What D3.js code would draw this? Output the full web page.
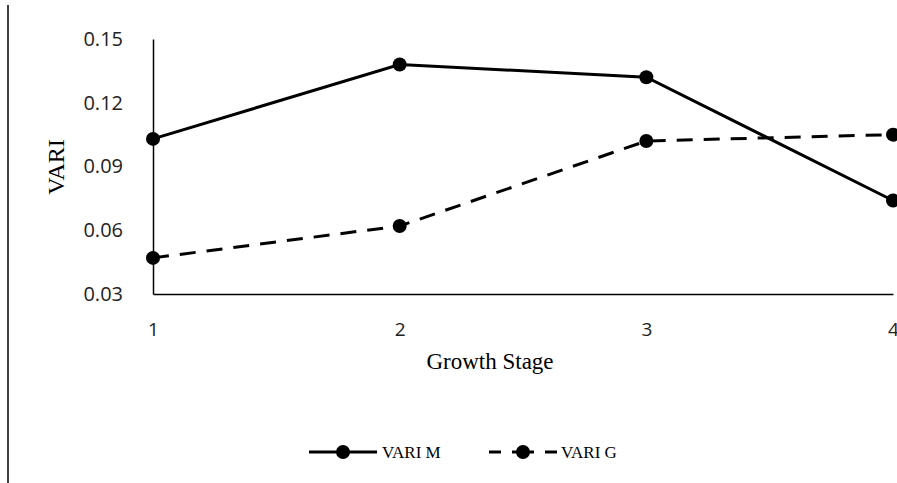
<!DOCTYPE html>
<html>
<head>
<meta charset="utf-8">
<script src="https://cdn.jsdelivr.net/npm/d3@7"></script>
<style>
  html, body { margin: 0; padding: 0; background: #fff; }
  svg { display: block; }
</style>
</head>
<body>
<svg id="chart" width="897" height="483"></svg>
<script>
// Growth stages on the x axis
const stages = [1, 2, 3, 4];
// VARI per growth stage for the two series
const variM = [0.103, 0.138, 0.132, 0.074];
const variG = [0.047, 0.062, 0.102, 0.105];
// Y axis tick values
const yTicks = [0.03, 0.06, 0.09, 0.12, 0.15];

const series = [
  { name: "VARI M", values: variM, dash: null },
  { name: "VARI G", values: variG, dash: "16,11" }
];

const svg = d3.select("#chart");
const W = 897, H = 483;
const margin = { left: 153, right: 4, top: 39, bottom: 189 };

const x = d3.scaleLinear().domain([1, 4]).range([margin.left, W - margin.right]);
const y = d3.scaleLinear().domain([0.03, 0.15]).range([H - margin.bottom, margin.top]);

const serif = "'Liberation Serif', 'Times New Roman', serif";
const sans = "'Open Sans', sans-serif";

// frame line on the left edge
svg.append("line")
  .attr("x1", 8).attr("x2", 8).attr("y1", 5).attr("y2", 483)
  .attr("stroke", "#000").attr("stroke-width", 1.5);

// Y axis
const yAxis = svg.append("g")
  .attr("transform", `translate(${margin.left},0)`)
  .call(d3.axisLeft(y).tickValues(yTicks).tickFormat(d3.format(".2f")).tickSize(0).tickPadding(30));
yAxis.select(".domain").attr("stroke", "#000").attr("stroke-width", 1.5);
yAxis.selectAll("text")
  .attr("font-family", sans)
  .attr("font-size", 20)
  .attr("fill", "#222");

// X axis
const xAxis = svg.append("g")
  .attr("transform", `translate(0,${y(0.03)})`)
  .call(d3.axisBottom(x).tickValues(stages).tickFormat(d3.format("d")).tickSize(0).tickPadding(29));
xAxis.select(".domain").attr("stroke", "#000").attr("stroke-width", 1.5);
xAxis.selectAll("text")
  .attr("font-family", sans)
  .attr("font-size", 19)
  .attr("fill", "#222");

// Axis titles
svg.append("text")
  .attr("x", 490).attr("y", 369)
  .attr("text-anchor", "middle")
  .attr("font-family", serif)
  .attr("font-size", 23)
  .text("Growth Stage");

svg.append("text")
  .attr("transform", "translate(64,167) rotate(-90)")
  .attr("text-anchor", "middle")
  .attr("font-family", serif)
  .attr("font-size", 24)
  .text("VARI");

// Series lines and markers
const line = d3.line()
  .x((d, i) => x(stages[i]))
  .y(d => y(d));

series.forEach(s => {
  svg.append("path")
    .datum(s.values)
    .attr("d", line)
    .attr("fill", "none")
    .attr("stroke", "#000")
    .attr("stroke-width", 3)
    .attr("stroke-dasharray", s.dash);
  svg.append("g").selectAll("circle")
    .data(s.values)
    .join("circle")
    .attr("cx", (d, i) => x(stages[i]))
    .attr("cy", d => y(d))
    .attr("r", 7)
    .attr("fill", "#000");
});

// Legend
const legend = [
  { s: series[0], x0: 309, x1: 377, tx: 382 },
  { s: series[1], x0: 489, x1: 557, tx: 561 }
];
const ly = 452;
legend.forEach(l => {
  svg.append("line")
    .attr("x1", l.x0).attr("x2", l.x1).attr("y1", ly).attr("y2", ly)
    .attr("stroke", "#000").attr("stroke-width", 3)
    .attr("stroke-dasharray", l.s.dash ? "12,11,22,11,12" : null);
  svg.append("circle")
    .attr("cx", (l.x0 + l.x1) / 2).attr("cy", ly).attr("r", 7).attr("fill", "#000");
  svg.append("text")
    .attr("x", l.tx).attr("y", ly + 6)
    .attr("font-family", serif)
    .attr("font-size", 17)
    .text(l.s.name);
});
</script>
</body>
</html>
